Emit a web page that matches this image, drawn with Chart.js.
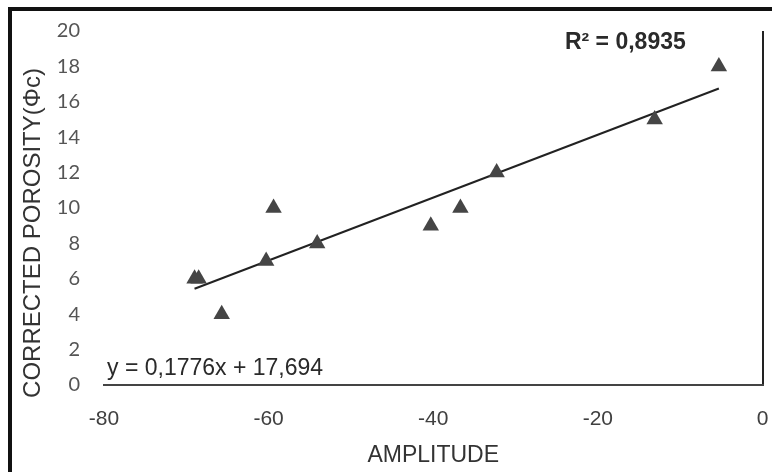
<!DOCTYPE html>
<html>
<head>
<meta charset="utf-8">
<script src="https://cdn.jsdelivr.net/npm/chart.js@4/dist/chart.umd.min.js"></script>
<style>
  html, body { margin: 0; padding: 0; background: #fff; }
  #wrap { position: relative; width: 772px; height: 472px; overflow: hidden; background: #fff; }
  #frame { position: absolute; left: 8px; top: 7px; width: 800px; height: 500px; border-left: 4px solid #111; border-top: 4px solid #111; }
  #c { position: absolute; left: 0; top: 0; }
</style>
</head>
<body>
<div id="wrap">
  <div id="frame"></div>
  <canvas id="c" width="772" height="472"></canvas>
</div>
<script>
// ---- data ----
const amplitude = [-69, -68.5, -65.7, -60.3, -59.4, -54.1, -40.3, -36.7, -32.3, -13.1, -5.3];
const porosity  = [6, 6, 4, 7, 10, 8, 9, 10, 12, 15, 18];
const xTickValues = [-80, -60, -40, -20, 0];
const yTickValues = [0, 2, 4, 6, 8, 10, 12, 14, 16, 18, 20];
const trendSlope = 0.1776;
const trendIntercept = 17.694;
const equationText = "y = 0,1776x + 17,694";
const r2Text = "R\u00B2 = 0,8935";
const xTitle = "AMPLITUDE";
const yTitle = "CORRECTED POROSITY(\u03A6c)";

const points = amplitude.map((x, i) => ({ x: x, y: porosity[i] }));
const xMin = Math.min(...amplitude), xMax = Math.max(...amplitude);
const trend = [xMin, xMax].map(x => ({ x: x, y: trendSlope * x + trendIntercept }));

const textPlugin = {
  id: 'texts',
  afterDraw(chart) {
    const ctx = chart.ctx;
    const xs = chart.scales.x, ys = chart.scales.y;
    ctx.save();
    // equation
    ctx.fillStyle = '#2a2a2a';
    ctx.font = '23px "Liberation Sans", Arial, sans-serif';
    ctx.textAlign = 'left';
    ctx.textBaseline = 'alphabetic';
    ctx.fillText(equationText, xs.getPixelForValue(-80) + 3, ys.getPixelForValue(0) - 10);
    // R squared
    ctx.font = 'bold 23px "Liberation Sans", Arial, sans-serif';
    ctx.fillText(r2Text, xs.getPixelForValue(-24), ys.getPixelForValue(20) + 18);
    // x title
    ctx.font = '23px "Liberation Sans", Arial, sans-serif';
    ctx.fillStyle = '#333';
    ctx.textAlign = 'center';
    ctx.fillText(xTitle, (chart.chartArea.left + chart.chartArea.right) / 2, 462);
    // y title
    ctx.translate(40, ys.getPixelForValue(0) - 152);
    ctx.rotate(-Math.PI / 2);
    ctx.font = '24px "Liberation Sans", Arial, sans-serif';
    ctx.fillText(yTitle, 0, 0);
    ctx.restore();
  }
};

new Chart(document.getElementById('c'), {
  type: 'scatter',
  data: {
    datasets: [
      {
        type: 'line',
        data: trend,
        borderColor: '#222',
        borderWidth: 2,
        pointRadius: 0,
        fill: false,
        order: 2
      },
      {
        data: points,
        pointStyle: 'triangle',
        pointRadius: 9.5,
        backgroundColor: '#454545',
        borderColor: '#454545',
        borderWidth: 0,
        order: 1
      }
    ]
  },
  options: {
    responsive: false,
    animation: false,
    devicePixelRatio: 1,
    layout: { padding: { top: 31, right: 7, bottom: 0, left: 0 } },
    plugins: { legend: { display: false }, tooltip: { enabled: false } },
    scales: {
      x: {
        type: 'linear',
        min: -80, max: 0,
        afterBuildTicks(s) { s.ticks = xTickValues.map(v => ({ value: v })); },
        afterFit(s) { s.height = 87; s.paddingLeft = 0; s.paddingRight = 0; },
        border: { display: true, color: '#444', width: 2 },
        grid: {
          drawTicks: false,
          lineWidth: 2,
          color: ctx => (ctx.tick && ctx.tick.value === 0) ? '#222' : 'rgba(0,0,0,0)'
        },
        ticks: {
          padding: 22,
          color: '#404040',
          font: { family: '"Liberation Sans", Arial, sans-serif', size: 21 },
          maxRotation: 0
        }
      },
      y: {
        type: 'linear',
        min: 0, max: 20,
        afterBuildTicks(s) { s.ticks = yTickValues.map(v => ({ value: v })); },
        afterFit(s) { s.width = 104; s.paddingTop = 0; s.paddingBottom = 0; },
        border: { display: false },
        grid: { display: false, drawTicks: false },
        ticks: {
          padding: 24,
          color: '#555',
          font: { family: 'Lato, sans-serif', size: 20 }
        }
      }
    }
  },
  plugins: [textPlugin]
});
</script>
</body>
</html>
